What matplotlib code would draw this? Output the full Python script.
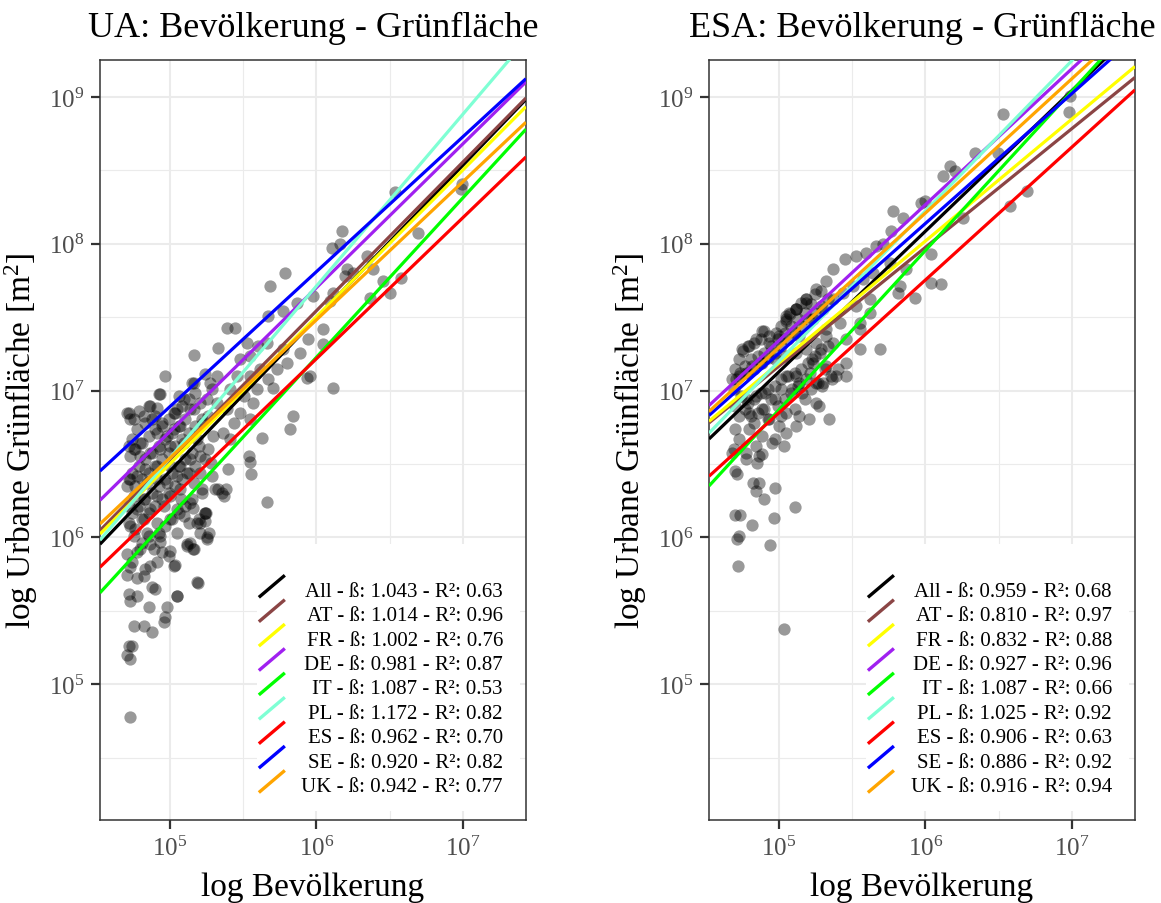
import matplotlib
matplotlib.use("Agg")
import matplotlib.pyplot as plt
import numpy as np
from matplotlib.lines import Line2D
from matplotlib.patches import Rectangle
from matplotlib.ticker import FixedLocator, LogFormatterMathtext, NullFormatter

plt.rcParams["font.family"] = ["Liberation Serif", "DejaVu Serif"]
plt.rcParams["mathtext.fontset"] = "custom"
plt.rcParams["mathtext.rm"] = "Liberation Serif"
plt.rcParams["mathtext.it"] = "Liberation Serif:italic"
plt.rcParams["mathtext.bf"] = "Liberation Serif:bold"

# regression groups (same order as the legend)
countries = ["All", "AT", "FR", "DE", "IT", "PL", "ES", "SE", "UK"]
line_colors = ["#000000", "#8B4545", "#FFFF00", "#A020F0", "#00FF00",
               "#7FFFD4", "#FF0000", "#0000FF", "#FFA500"]

# UA: slope, R² and fitted log10 green area at 10^5 inhabitants
ua_beta = [1.043, 1.014, 1.002, 0.981, 1.087, 1.172, 0.962, 0.920, 0.942]
ua_r2 = [0.63, 0.96, 0.76, 0.87, 0.53, 0.82, 0.70, 0.82, 0.77]
ua_level = [6.45, 6.53, 6.50, 6.72, 6.14, 6.54, 6.255, 6.89, 6.54]

# ESA
esa_beta = [0.959, 0.810, 0.832, 0.927, 1.087, 1.025, 0.906, 0.886, 0.916]
esa_r2 = [0.68, 0.97, 0.88, 0.96, 0.66, 0.92, 0.63, 0.92, 0.94]
esa_level = [7.127, 7.166, 7.187, 7.34, 6.868, 7.199, 6.848, 7.253, 7.294]

# cities, log10 population / log10 green area (UA)
ua_log_pop = [
    4.969, 4.935, 5.060, 5.151, 5.242, 5.287, 4.719, 4.753, 4.822, 4.867,
    4.913, 4.879, 4.947, 5.026, 5.072, 5.140, 5.208, 5.253, 5.026, 4.981,
    4.913, 4.799, 4.753, 4.731, 4.799, 4.867, 4.935, 5.003, 5.094, 5.185,
    5.208, 5.264, 5.140, 5.072, 5.003, 4.913, 4.833, 4.731, 4.708, 4.777,
    4.845, 4.913, 4.981, 5.049, 5.117, 5.219, 5.162, 5.072, 5.003, 4.913,
    4.822, 4.753, 4.719, 4.777, 4.867, 4.958, 5.049, 5.140, 5.242, 5.185,
    5.094, 5.003, 4.913, 4.822, 4.731, 4.753, 4.845, 4.935, 5.049, 5.140,
    5.003, 4.890, 4.799, 5.208, 5.242,
    4.731, 4.719, 4.743, 4.708, 4.731, 4.753, 4.822, 4.879, 4.958, 4.969,
    4.981, 4.856, 5.049, 4.731, 4.719, 4.777, 4.879, 4.901, 5.185, 4.708,
    4.777, 4.822, 4.833, 4.731, 4.743, 4.913, 5.037, 4.992, 4.947, 4.867,
    5.117, 5.162, 5.253, 4.708, 4.777, 4.867, 4.935,
    5.546, 5.554, 5.660, 5.395, 5.370, 5.383, 5.332, 5.257, 5.206, 5.244,
    5.156, 5.118, 5.193, 5.050, 5.030, 5.282, 5.156, 5.080, 5.206,
    6.536, 6.173, 6.105, 6.161, 6.207, 6.252, 6.196, 6.343, 6.388, 6.456,
    6.502, 6.366, 6.112, 6.093, 5.980, 5.787, 5.685, 5.866, 5.775, 5.673,
    6.048, 6.048, 5.946, 5.889, 5.798, 5.730, 5.957, 5.935, 6.116, 5.843,
    5.821, 5.628, 5.390, 5.446, 5.332, 5.162, 5.548, 5.605, 5.662, 5.775,
    5.526, 5.480, 5.616, 5.548, 5.458, 5.673, 5.707, 5.594, 5.503, 5.412,
    5.322, 5.276, 5.162, 5.571, 5.480, 5.390, 5.322, 5.264, 5.435, 5.548,
    5.366, 5.298, 5.412, 5.094, 5.049, 5.162, 5.230, 5.537,
    6.983, 6.995, 6.693, 6.580,
    4.709, 4.731, 4.788, 4.856, 4.924, 4.902, 4.833, 4.777, 4.743, 4.720,
    4.765, 4.811, 4.856, 4.902, 4.947, 4.992, 5.038, 5.083, 5.129, 5.174,
    5.106, 5.061, 5.015, 4.970, 4.924, 4.879, 4.833, 4.788, 4.743, 4.720,
    4.765, 4.811, 4.856, 4.902, 4.947, 4.992, 5.038, 5.083, 5.129, 5.174,
    5.219, 5.197, 5.151, 5.106, 5.061, 5.015, 4.970, 4.924, 4.879, 4.833,
    4.788, 4.743, 4.720, 4.765, 4.811, 4.856, 4.902, 4.947, 4.992, 5.038,
    5.083, 5.129, 5.174, 5.242, 5.288, 5.219, 5.151, 5.106, 5.061, 5.015,
    4.970, 4.924, 4.856, 4.811, 5.242, 5.197, 5.310, 5.356, 5.265, 5.129,
]
ua_log_green = [
    7.099, 6.975, 6.963, 7.054, 7.111, 7.009, 6.850, 6.804, 6.827, 6.895,
    6.884, 6.804, 6.782, 6.850, 6.759, 6.872, 6.918, 6.940, 6.736, 6.690,
    6.713, 6.645, 6.600, 6.554, 6.554, 6.577, 6.600, 6.622, 6.645, 6.668,
    6.554, 6.600, 6.532, 6.486, 6.486, 6.486, 6.463, 6.395, 6.350, 6.418,
    6.373, 6.395, 6.373, 6.418, 6.441, 6.305, 6.373, 6.327, 6.281, 6.281,
    6.259, 6.281, 6.213, 6.191, 6.191, 6.213, 6.191, 6.236, 6.168, 6.100,
    6.145, 6.123, 6.100, 6.123, 6.077, 6.009, 6.032, 6.009, 6.032, 5.964,
    5.907, 5.918, 5.918, 6.032, 6.111,
    4.780, 5.259, 5.259, 5.196, 5.175, 5.400, 5.400, 5.355, 5.421, 5.455,
    5.523, 5.523, 5.598, 5.566, 5.612, 5.600, 5.659, 5.652, 5.695, 5.741,
    5.721, 5.734, 5.782, 5.796, 5.830, 5.830, 5.809, 5.873, 5.900, 5.804,
    5.952, 5.918, 5.986, 5.884, 5.898, 5.952, 5.966,
    6.513, 6.429, 6.243, 6.463, 6.281, 6.327, 6.327, 6.005, 6.100, 6.168,
    5.918, 5.941, 5.691, 5.600, 5.804, 6.509, 6.202, 6.259, 6.441,
    8.353, 8.087, 7.974, 7.997, 7.826, 7.804, 7.781, 7.917, 7.826, 7.747,
    7.668, 7.633, 7.668, 7.610, 7.644, 7.804, 7.713, 7.599, 7.542, 7.508,
    7.417, 7.315, 7.349, 7.259, 7.190, 7.145, 7.099, 7.088, 7.020, 6.827,
    6.736, 6.679, 7.429, 7.429, 7.293, 7.240, 7.235, 7.304, 7.327, 7.281,
    7.327, 7.213, 7.145, 7.099, 7.099, 7.077, 7.020, 7.009, 6.963, 7.009,
    7.099, 7.054, 7.054, 6.918, 6.850, 6.872, 6.918, 6.827, 6.782, 6.804,
    6.713, 6.690, 6.668, 6.940, 6.872, 6.872, 6.782, 6.554,
    8.371, 8.405, 8.076, 7.770,
    6.850, 6.804, 6.861, 6.895, 6.975, 6.827, 6.782, 6.736, 6.668, 6.623,
    6.600, 6.645, 6.691, 6.736, 6.759, 6.804, 6.850, 6.895, 6.941, 6.986,
    6.804, 6.759, 6.714, 6.668, 6.623, 6.577, 6.532, 6.486, 6.441, 6.396,
    6.350, 6.396, 6.441, 6.486, 6.532, 6.577, 6.623, 6.668, 6.714, 6.759,
    6.804, 6.623, 6.577, 6.532, 6.486, 6.441, 6.396, 6.350, 6.305, 6.259,
    6.214, 6.168, 6.100, 6.055, 6.123, 6.168, 6.214, 6.259, 6.305, 6.350,
    6.396, 6.441, 6.486, 6.532, 6.418, 6.327, 6.259, 6.214, 6.168, 6.123,
    6.078, 6.032, 6.009, 5.964, 6.168, 6.123, 6.327, 6.305, 6.032, 6.100,
]

# ESA
esa_log_pop = [
    4.887, 4.750, 4.727, 4.795, 4.841, 4.932, 5.000, 5.046, 5.114, 5.182,
    5.068, 4.704, 4.682, 4.727, 4.773, 4.818, 4.887, 4.977, 5.046, 5.114,
    5.182, 5.251, 5.319, 5.228, 5.319, 5.365, 5.251, 5.296, 5.182, 5.114,
    5.046, 5.012, 5.092, 5.160, 5.251, 5.205, 5.137, 5.046, 4.977, 4.909,
    4.841, 4.773, 4.704, 4.727, 4.795, 4.887, 4.932, 5.000, 5.114, 5.046,
    4.977, 4.887, 4.795, 4.704, 4.727, 4.841, 4.773, 4.863, 4.682, 5.342,
    5.273,
    5.034, 4.723, 4.943, 4.716, 4.727, 4.814, 4.966, 4.699, 4.738, 5.109,
    4.898, 4.841, 4.822, 4.868, 4.977, 4.716, 4.704, 4.852, 4.887, 4.773,
    4.693, 5.034, 4.955,
    6.530, 6.981, 6.986, 6.337, 6.496, 6.166, 6.120, 6.200, 6.690, 6.576,
    5.973, 5.995, 5.779, 5.847, 6.257, 5.768, 6.041, 6.109, 6.041, 5.927,
    5.824, 5.813, 5.688, 5.551, 5.460, 5.392, 5.460, 5.551, 5.710, 5.665,
    5.597, 5.529, 5.449, 5.369, 5.324, 5.255, 5.187, 5.119, 5.051, 5.642,
    5.574, 5.505, 5.437, 5.369, 5.301, 5.232, 5.870, 5.756, 5.620, 5.529,
    5.620, 5.551, 5.415, 5.324, 5.369, 5.460, 5.278, 5.232, 5.210, 5.301,
    5.141, 5.141,
    4.754, 4.788, 4.834, 4.880, 4.902, 4.936, 4.982, 5.016, 5.050, 5.073,
    5.119, 5.153, 5.187, 5.244, 5.289, 5.221, 5.176, 5.130, 5.084, 5.039,
    4.993, 4.948, 4.902, 4.857, 4.811, 4.766, 4.732, 4.709, 4.789, 4.834,
    4.880, 4.925, 4.971, 5.016, 5.062, 5.107, 5.153, 5.198, 5.244, 5.289,
    5.335,
    4.697, 4.743, 4.788, 4.834, 4.880, 4.925, 4.971, 5.016, 5.062, 5.107,
    5.153, 5.198, 5.244, 5.289, 5.335, 5.130, 5.084, 5.039, 4.993, 4.948,
    4.902, 4.857, 4.811, 4.766, 4.834, 4.925, 5.016, 5.107, 5.176, 5.221,
    5.267, 5.358, 5.403, 5.312,
]
esa_log_green = [
    7.406, 7.281, 7.213, 7.304, 7.349, 7.327, 7.372, 7.486, 7.554, 7.599,
    7.531, 7.145, 7.077, 7.099, 7.122, 7.167, 7.190, 7.213, 7.235, 7.259,
    7.281, 7.327, 7.372, 7.213, 7.167, 7.077, 7.054, 7.031, 7.077, 7.099,
    7.099, 7.009, 7.009, 6.986, 6.918, 6.804, 6.827, 6.850, 6.940, 6.986,
    6.963, 6.940, 6.895, 6.827, 6.850, 6.872, 6.804, 6.759, 6.759, 6.713,
    6.668, 6.690, 6.736, 6.736, 6.668, 6.622, 6.577, 6.554, 6.577, 6.804,
    6.895,
    5.373, 5.804, 5.945, 5.986, 6.009, 6.082, 6.134, 6.150, 6.150, 6.206,
    6.259, 6.316, 6.373, 6.373, 6.339, 6.429, 6.452, 6.509, 6.565, 6.532,
    6.600, 6.622, 6.645,
    8.883, 8.898, 9.007, 8.617, 8.622, 8.531, 8.463, 8.497, 8.361, 8.258,
    8.281, 8.292, 8.224, 8.179, 8.179, 8.087, 7.929, 7.724, 7.735, 7.633,
    7.713, 7.668, 7.281, 7.281, 7.099, 7.099, 7.190, 7.417, 7.997, 7.985,
    7.940, 7.917, 7.894, 7.826, 7.747, 7.690, 7.622, 7.554, 7.508, 7.804,
    7.758, 7.713, 7.668, 7.622, 7.554, 7.486, 7.826, 7.872, 7.622, 7.576,
    7.531, 7.463, 7.463, 7.417, 7.327, 7.349, 7.259, 7.190, 7.122, 7.054,
    7.054, 7.372,
    7.270, 7.304, 7.327, 7.349, 7.406, 7.372, 7.395, 7.440, 7.474, 7.520,
    7.554, 7.599, 7.622, 7.656, 7.679, 7.588, 7.531, 7.486, 7.440, 7.395,
    7.349, 7.304, 7.258, 7.236, 7.213, 7.168, 7.122, 7.077, 7.122, 7.145,
    7.190, 7.224, 7.258, 7.304, 7.349, 7.395, 7.440, 7.486, 7.531, 7.576,
    7.622,
    7.009, 6.963, 6.918, 6.940, 6.986, 7.009, 7.031, 7.077, 7.099, 7.122,
    7.145, 7.190, 7.236, 7.281, 7.304, 7.031, 6.986, 6.940, 6.895, 6.940,
    6.872, 6.850, 6.827, 6.872, 6.781, 6.804, 6.827, 6.872, 6.940, 7.009,
    7.054, 7.099, 7.145, 7.145,
]

x_range = (4.524, 7.429)
y_range = (4.075, 9.252)


def draw_key(ax, labels):
    # legend box in the lower right corner, text right-aligned
    ax.add_patch(Rectangle((0.368, 0.012), 0.618, 0.351, transform=ax.transAxes,
                           facecolor="white", edgecolor="none", zorder=4))
    for i, (lab, col) in enumerate(zip(labels, line_colors)):
        yc = 0.3075 - i * 0.0321
        ax.add_line(Line2D([0.373, 0.434], [yc - 0.0145, yc + 0.0145],
                           transform=ax.transAxes, color=col, lw=2.4,
                           solid_capstyle="butt", zorder=5))
        ax.text(0.946, yc - 0.0124, lab, transform=ax.transAxes, ha="right",
                va="baseline", fontsize=15, zorder=6)


def draw_panel(ax, title, log_pop, log_green, level, beta, r2):
    ax.set_xscale("log")
    ax.set_yscale("log")

    ax.scatter(10 ** np.array(log_pop), 10 ** np.array(log_green), s=78,
               color="black", alpha=0.4, linewidths=0, zorder=2)

    lx = np.array(x_range)
    for lev, b, col in zip(level, beta, line_colors):
        ax.plot(10 ** lx, 10 ** (lev + b * (lx - 5)), color=col, lw=2.3,
                solid_capstyle="butt", zorder=3)

    ax.set_xlim(10 ** x_range[0], 10 ** x_range[1])
    ax.set_ylim(10 ** y_range[0], 10 ** y_range[1])

    ax.xaxis.set_major_locator(FixedLocator([1e5, 1e6, 1e7]))
    ax.xaxis.set_minor_locator(FixedLocator([10 ** 5.5, 10 ** 6.5]))
    ax.yaxis.set_major_locator(FixedLocator([1e5, 1e6, 1e7, 1e8, 1e9]))
    ax.yaxis.set_minor_locator(FixedLocator([10 ** 4.5, 10 ** 5.5, 10 ** 6.5,
                                             10 ** 7.5, 10 ** 8.5]))
    ax.xaxis.set_major_formatter(LogFormatterMathtext())
    ax.yaxis.set_major_formatter(LogFormatterMathtext())
    ax.xaxis.set_minor_formatter(NullFormatter())
    ax.yaxis.set_minor_formatter(NullFormatter())

    ax.grid(which="major", color="#EBEBEB", lw=1.5)
    ax.grid(which="minor", color="#EBEBEB", lw=0.8)
    ax.set_axisbelow(True)
    ax.tick_params(which="major", length=6.5, width=1.6, color="#333333",
                   labelsize=18, labelcolor="#4D4D4D", pad=5)
    ax.tick_params(which="minor", length=0)
    for sp in ax.spines.values():
        sp.set_color("#333333")
        sp.set_linewidth(1.1)

    ax.set_title(title, fontsize=26, pad=17)
    ax.set_xlabel("log Bevölkerung", fontsize=24, labelpad=8)
    ax.set_ylabel("log Urbane Grünfläche [m$^2$]", fontsize=24, labelpad=6)

    labels = [f"{c} - ß: {b:.3f} - R²: {r:.2f}" for c, b, r in zip(countries, beta, r2)]
    draw_key(ax, labels)


fig = plt.figure(figsize=(11.61, 9.04), dpi=100)
ax_ua = fig.add_axes([0.0861, 0.0918, 0.3669, 0.8407])
ax_esa = fig.add_axes([0.6107, 0.0918, 0.3669, 0.8407])

draw_panel(ax_ua, "UA: Bevölkerung - Grünfläche", ua_log_pop, ua_log_green,
           ua_level, ua_beta, ua_r2)
draw_panel(ax_esa, "ESA: Bevölkerung - Grünfläche", esa_log_pop, esa_log_green,
           esa_level, esa_beta, esa_r2)

fig.savefig("out.png", dpi=100)
